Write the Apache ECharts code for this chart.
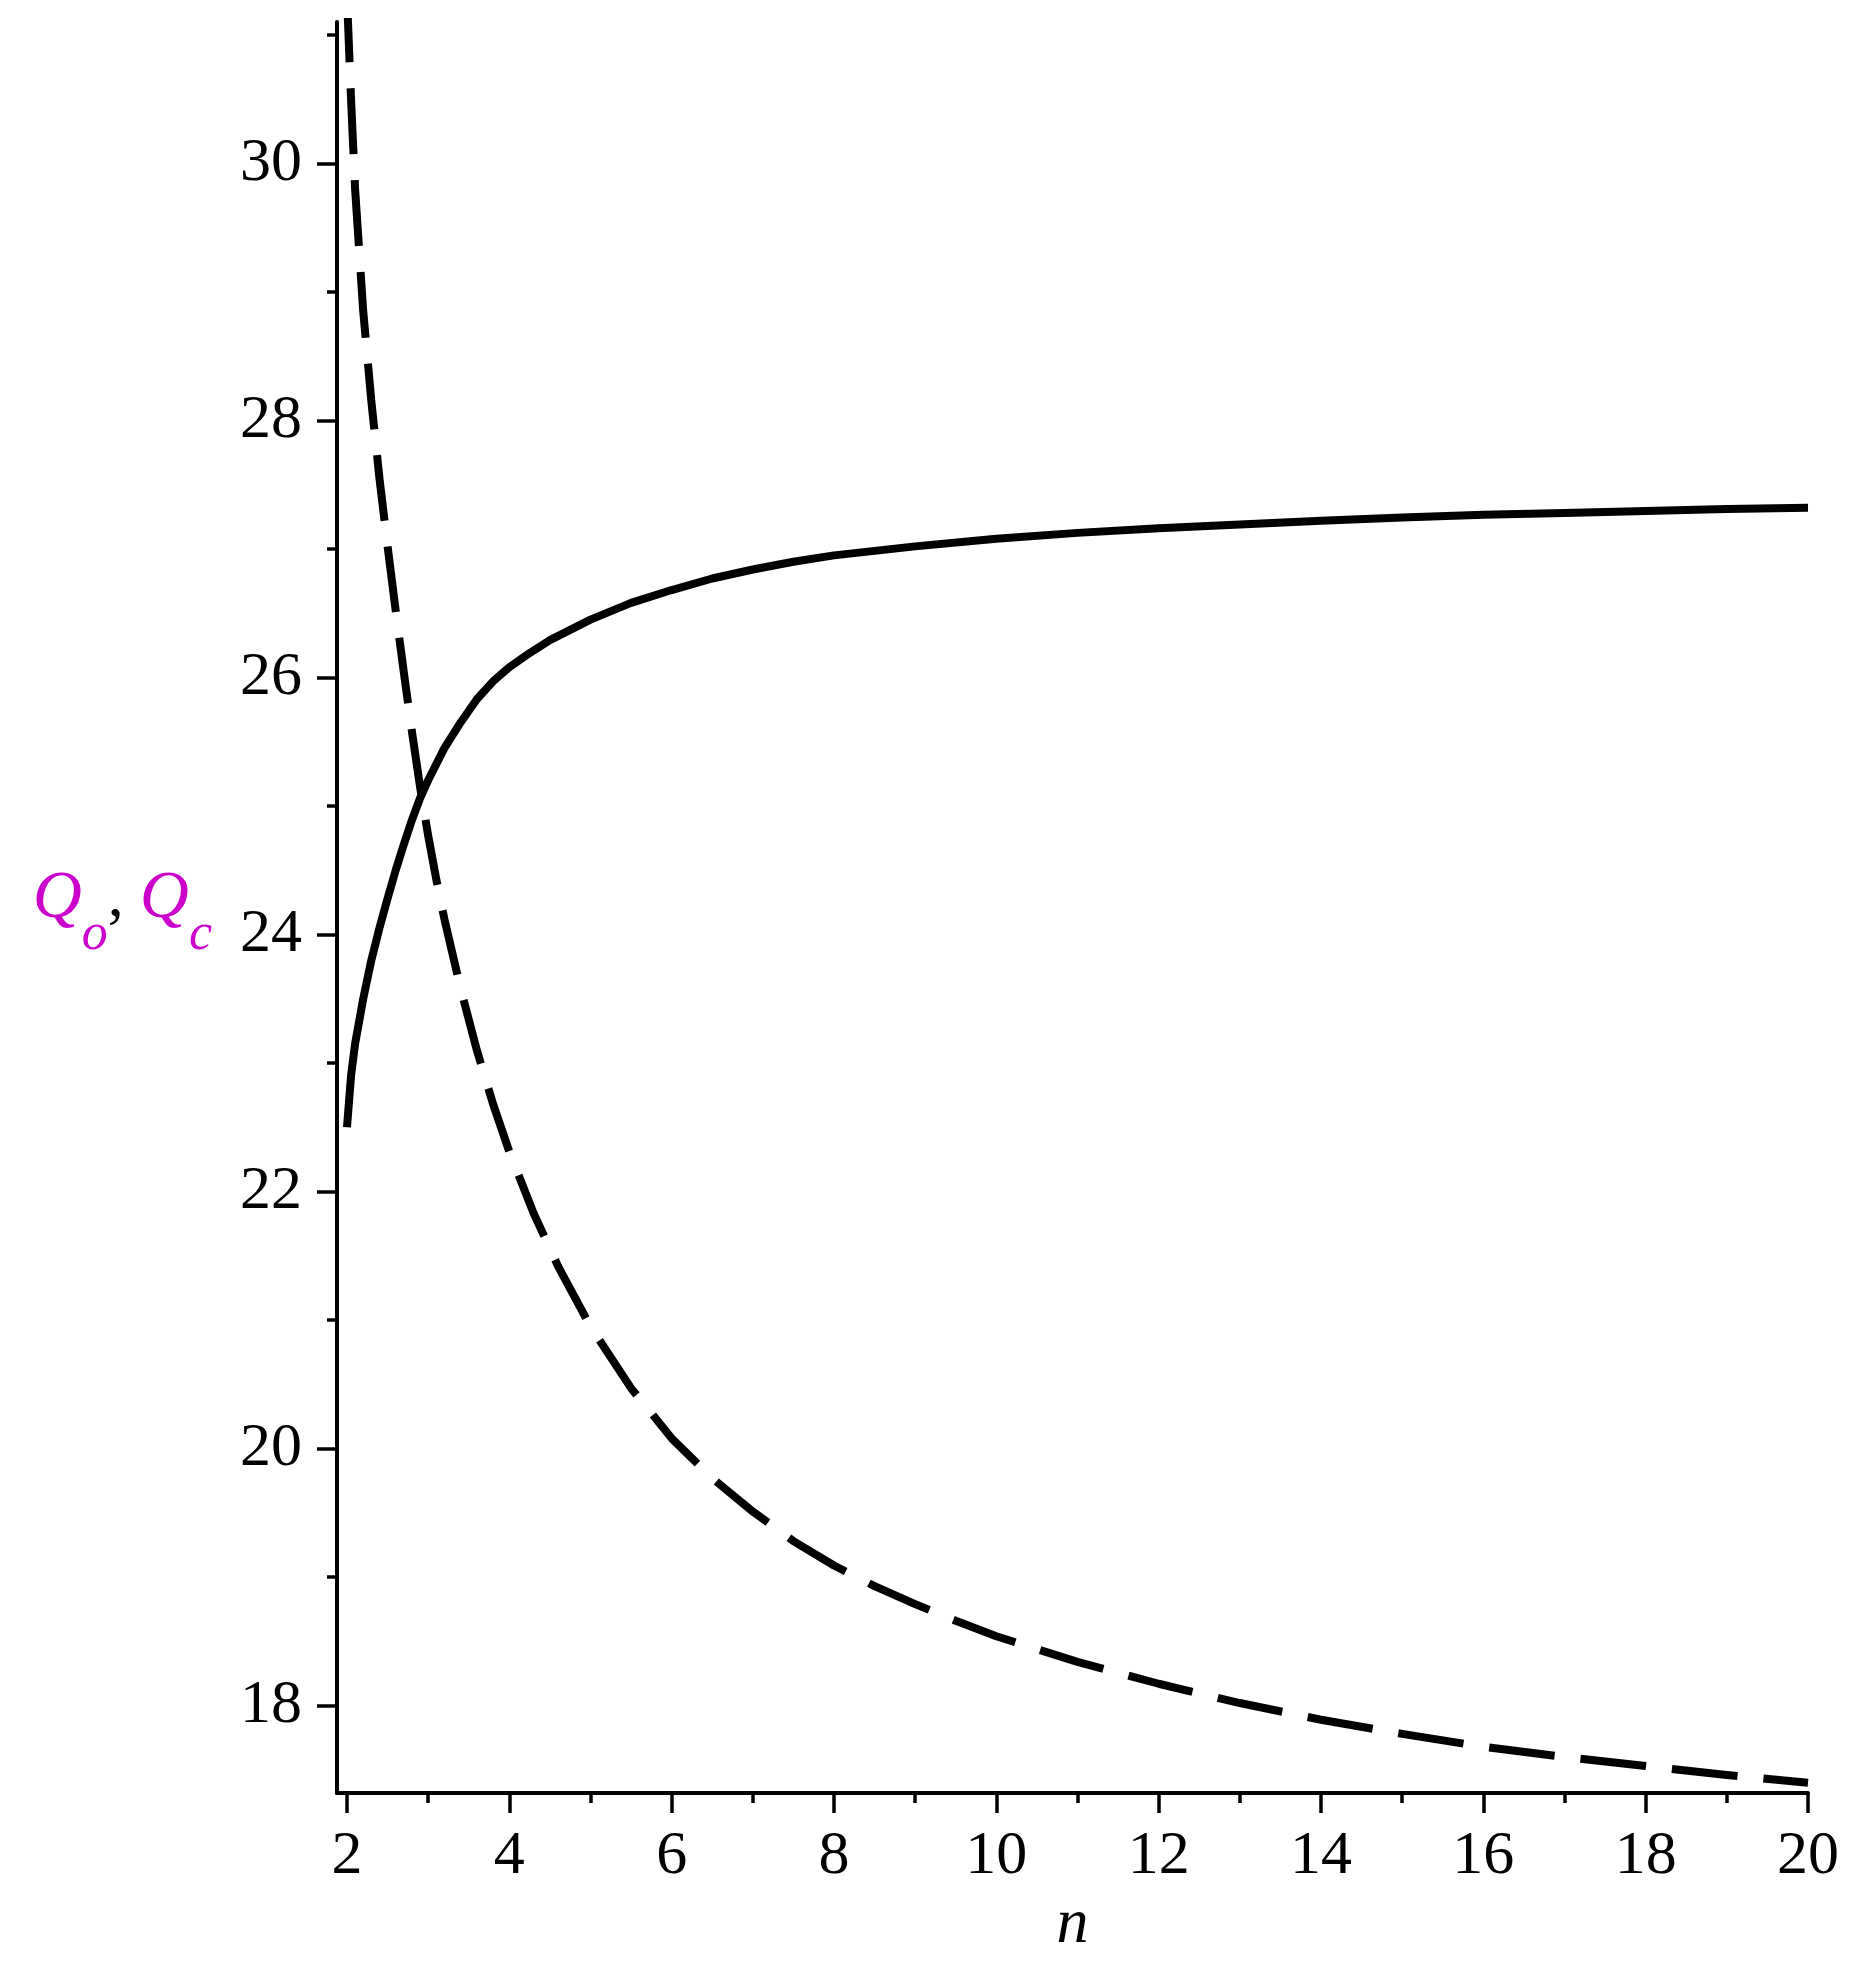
<!DOCTYPE html>
<html>
<head>
<meta charset="utf-8">
<title>Q_o, Q_c vs n</title>
<script src="https://cdn.jsdelivr.net/npm/echarts@6.0.0/dist/echarts.min.js"></script>
<style>
  html, body { margin: 0; padding: 0; background: #fff; }
  #chart { width: 1856px; height: 1981px; }
</style>
</head>
<body>
<div id="chart"></div>
<script>
// ------------------------------  数据 ---------------------------
// Q_c 曲线（实线，递增）
const nSolid = [2.0, 2.05, 2.1, 2.2, 2.3, 2.4, 2.5, 2.6, 2.7, 2.8, 2.9, 3.0, 3.2, 3.4, 3.6, 3.8, 4.0, 4.25, 4.5, 5.0, 5.5, 6.0, 6.5, 7.0, 7.5, 8.0, 9.0, 10, 11, 12, 13, 14, 15, 16, 17, 18, 19, 20];
const qC = [22.5, 22.9, 23.15, 23.5, 23.8, 24.05, 24.28, 24.5, 24.7, 24.89, 25.06, 25.2, 25.45, 25.65, 25.83, 25.97, 26.08, 26.19, 26.29, 26.45, 26.58, 26.68, 26.77, 26.84, 26.9, 26.95, 27.02, 27.08, 27.125, 27.16, 27.19, 27.22, 27.245, 27.265, 27.28, 27.295, 27.31, 27.32];

// Q_o 曲线（虚线，递减）
const nDash = [2.0, 2.05, 2.1, 2.2, 2.3, 2.4, 2.5, 2.6, 2.7, 2.8, 2.9, 3.0, 3.1, 3.2, 3.4, 3.6, 3.8, 4.0, 4.3, 4.6, 5.0, 5.5, 6.0, 6.5, 7.0, 7.5, 8.0, 8.5, 9.0, 9.5, 10, 11, 12, 13, 14, 15, 16, 17, 18, 19, 20];
const qO = [31.3, 30.5, 29.8, 28.85, 28.15, 27.55, 27.02, 26.52, 26.04, 25.58, 25.15, 24.77, 24.43, 24.12, 23.58, 23.1, 22.68, 22.31, 21.83, 21.42, 20.95, 20.47, 20.08, 19.77, 19.51, 19.28, 19.09, 18.93, 18.79, 18.66, 18.54, 18.34, 18.17, 18.02, 17.89, 17.78, 17.68, 17.6, 17.53, 17.46, 17.4];

// 刻度
const xMajor = [2, 4, 6, 8, 10, 12, 14, 16, 18, 20];
const xMinor = [3, 5, 7, 9, 11, 13, 15, 17, 19];
const yMajor = [18, 20, 22, 24, 26, 28, 30];
const yMinor = [19, 21, 23, 25, 27, 29, 31];

// ------------------------------  图表 ---------------------------
(function () {
  let myChart = echarts.init(document.getElementById('chart'));

  const xMin = 1.877, xMax = 20;
  const yMin = 17.32, yMax = 31.1;
  const serif = '"Liberation Serif", "Times New Roman", serif';
  const magenta = '#cc00cc';

  // 主刻度轴（带标签）
  function majorAxis(values, pos, margin) {
    return {
      type: 'value',
      position: pos,
      axisLine: { show: true, onZero: false, lineStyle: { color: '#000', width: 4 } },
      axisTick: { show: true, inside: false, length: 20, customValues: values, lineStyle: { color: '#000', width: 3.5 } },
      axisLabel: { show: true, customValues: values, margin: margin, fontFamily: serif, fontSize: 62, color: '#000' },
      splitLine: { show: false }
    };
  }
  // 次刻度轴（只有短刻度）
  function minorAxis(values, pos) {
    return {
      type: 'value',
      position: pos,
      axisLine: { show: false, onZero: false },
      axisTick: { show: true, inside: false, length: 10, customValues: values, lineStyle: { color: '#000', width: 3.5 } },
      axisLabel: { show: false },
      splitLine: { show: false }
    };
  }

  let xA = Object.assign(majorAxis(xMajor, 'bottom', 33), {
    min: xMin, max: xMax,
    name: 'n', nameLocation: 'middle', nameGap: 98,
    nameTextStyle: { fontFamily: serif, fontStyle: 'italic', fontSize: 64, color: '#000' }
  });
  let xB = Object.assign(minorAxis(xMinor, 'bottom'), { min: xMin, max: xMax });

  // y 轴名称：Q_o, Q_c（下标用 padding 往下压）
  let yA = Object.assign(majorAxis(yMajor, 'left', 35), {
    min: yMin, max: yMax,
    name: '{q|Q}{s|o}{k|, }{q|Q}{s|c}',
    nameLocation: 'middle', nameRotate: 0, nameGap: 125,
    nameTextStyle: {
      padding: [0, 0, 17, 0],
      rich: {
        q: { fontFamily: serif, fontStyle: 'italic', fontSize: 68, lineHeight: 68, color: magenta },
        s: { fontFamily: serif, fontStyle: 'italic', fontSize: 52, lineHeight: 52, color: magenta, padding: [72, 0, 0, 0] },
        k: { fontFamily: serif, fontSize: 64, lineHeight: 64, color: '#000' }
      }
    }
  });
  let yB = Object.assign(minorAxis(yMinor, 'left'), { min: yMin, max: yMax });

  let option = {
    backgroundColor: '#fff',
    animation: false,
    grid: { left: 337, right: 48, top: 22, bottom: 188, containLabel: false },
    xAxis: [xA, xB],
    yAxis: [yA, yB],
    series: [
      {
        name: 'Qc',
        type: 'line',
        xAxisIndex: 0, yAxisIndex: 0,
        data: nSolid.map((n, i) => [n, qC[i]]),
        showSymbol: false,
        smooth: false,
        lineStyle: { color: '#000', width: 8, join: 'round' }
      },
      {
        name: 'Qo',
        type: 'line',
        xAxisIndex: 0, yAxisIndex: 0,
        data: nDash.map((n, i) => [n, qO[i]]),
        showSymbol: false,
        smooth: false,
        lineStyle: { color: '#000', width: 8, type: [66, 26], join: 'round' }
      }
    ]
  };

  myChart.setOption(option);
})();
</script>
</body>
</html>
